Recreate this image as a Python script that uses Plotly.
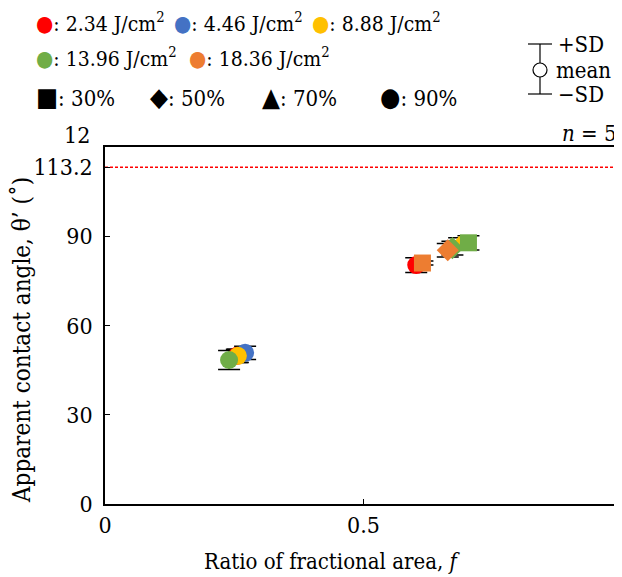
import plotly.graph_objects as go

# ---- data ----
series_names = ["2.34 J/cm² 90%", "4.46 J/cm² 90%", "8.88 J/cm² 90%", "13.96 J/cm² 90%",
                "2.34 J/cm² 90% (b)", "18.36 J/cm² 30%",
                "8.88 J/cm² 70%", "13.96 J/cm² 50%", "18.36 J/cm² 50%", "13.96 J/cm² 30%"]
series_colors = ["#FF0000", "#4472C4", "#FFC000", "#70AD47",
                 "#FF0000", "#ED7D31",
                 "#FFC000", "#70AD47", "#ED7D31", "#70AD47"]
series_symbols = ["circle", "circle", "circle", "circle",
                  "circle", "square",
                  "triangle-up", "diamond", "diamond", "square"]
f_values = [0.255, 0.271, 0.257, 0.240,
            0.602, 0.614,
            0.685, 0.672, 0.663, 0.703]
mean_values = [49.8, 50.8, 49.8, 48.4,
               80.3, 81.0,
               87.5, 86.0, 85.3, 87.8]
sd_values = [2.2, 2.2, 2.2, 3.2,
             2.5, 0.7,
             2.0, 2.3, 2.3, 2.4]

young_angle = 113.2
y_ticks = [0, 30, 60, 90, 113.2]
y_tick_text = ["0", "30", "60", "90", "113.2"]
x_ticks = [0, 0.5]
x_tick_text = ["0", "0.5"]

FONT = "DejaVu Serif Condensed, DejaVu Serif"

fig = go.Figure()

for i in range(len(f_values)):
    fig.add_trace(go.Scatter(
        x=[f_values[i]], y=[mean_values[i]], mode="markers",
        marker=dict(size=0.1, color="rgba(0,0,0,0)"),
        error_y=dict(type="data", array=[sd_values[i]], color="black",
                     thickness=1.5, width=11),
        showlegend=False, hoverinfo="skip"))

msize = {"circle": 18, "square": 17, "diamond": 17, "triangle-up": 16}
for i in range(len(f_values)):
    fig.add_trace(go.Scatter(
        x=[f_values[i]], y=[mean_values[i]], mode="markers",
        name=series_names[i],
        marker=dict(symbol=series_symbols[i], size=msize[series_symbols[i]],
                    color=series_colors[i], line=dict(width=0)),
        showlegend=False))

fig.add_trace(go.Scatter(
    x=[0, 1], y=[young_angle, young_angle], mode="lines",
    line=dict(color="#FF0000", width=1.5, dash="3px,2px"),
    showlegend=False, hoverinfo="skip"))

# page body has an 8px margin: figure placed at (8, 8)
fig.update_layout(
    width=614, height=569,
    margin=dict(l=97, r=0, t=139, b=73),
    paper_bgcolor="white", plot_bgcolor="white",
    font=dict(family=FONT, size=21, color="black"),
    showlegend=False,
)

fig.update_xaxes(
    range=[0, 1], tickvals=x_ticks, ticktext=x_tick_text,
    ticks="inside", ticklen=5, tickwidth=1, tickcolor="black",
    showline=True, linecolor="black", linewidth=1.5, mirror=True,
    showgrid=False, zeroline=False,
    tickfont=dict(family=FONT, size=23),
)
fig.update_yaxes(
    range=[0, 120], tickvals=y_ticks, ticktext=y_tick_text,
    ticks="inside", ticklen=5, tickwidth=1, tickcolor="black",
    showline=True, linecolor="black", linewidth=1.5,
    showgrid=False, zeroline=False, ticklabelstandoff=6,
    tickfont=dict(family=FONT, size=23),
)

ann = []
def add_text(x, y, text, size=21, xanchor="left", color="black", angle=0):
    ann.append(dict(x=x, y=y, xref="paper", yref="paper", text=text, showarrow=False,
                    xanchor=xanchor, yanchor="middle", textangle=angle,
                    font=dict(family=FONT, size=size, color=color)))

PW, PH = 517, 357
def px(xp):
    return (xp - 105) / PW
def py(yp):
    return (504 - yp) / PH

# axis titles
add_text(px(332), py(561), "Ratio of fractional area, <i>f</i>", size=22, xanchor="center")
add_text(px(22), py(340), "Apparent contact angle, θ’ (˚)", size=24, xanchor="center", angle=-90)

# clipped tick labels ("12" at the top of the y axis, "1" at the right end of x)
add_text(px(92), py(135), "12", size=23, xanchor="right")
add_text(px(614), py(522), "1", size=23, xanchor="left")
add_text(px(619), py(134), "<i>n</i> = 5", size=22, xanchor="right")

leg_colors = ["#FF0000", "#4472C4", "#FFC000", "#70AD47", "#ED7D31"]
leg_labels = ["2.34", "4.46", "8.88", "13.96", "18.36"]
leg_pos = [(34, 22), (172, 22), (310, 22), (34, 57), (187, 57)]
for c, lab, (xx, yy) in zip(leg_colors, leg_labels, leg_pos):
    add_text(px(xx), py(yy),
             f"<span style='color:{c};font-size:22px'>●</span>: {lab} J/cm<sup>2</sup>")

shape_syms = ["■", "◆", "▲", "●"]
shape_labels = ["30%", "50%", "70%", "90%"]
shape_x = [34, 148, 260, 378]
for s, lab, xx in zip(shape_syms, shape_labels, shape_x):
    add_text(px(xx), py(97), f"<span style='font-size:26px'>{s}</span>: {lab}", size=22)

add_text(px(556), py(45), "+SD", size=22)
add_text(px(554), py(70), "mean", size=22)
add_text(px(556), py(94), "−SD", size=22)
fig.update_layout(annotations=ann)

shapes = []
kx = 540
def pl(x0, y0, x1, y1):
    shapes.append(dict(type="line", xref="paper", yref="paper",
                       x0=px(x0), y0=py(y0), x1=px(x1), y1=py(y1),
                       line=dict(color="black", width=1.2)))
pl(kx - 12, 44, kx + 12, 44)
pl(kx - 12, 94, kx + 12, 94)
pl(kx, 44, kx, 63)
pl(kx, 77, kx, 94)
shapes.append(dict(type="circle", xref="paper", yref="paper",
                   x0=px(kx - 7), x1=px(kx + 7), y0=py(77), y1=py(63),
                   line=dict(color="black", width=1.2), fillcolor="white"))
fig.update_layout(shapes=shapes)

fig.write_html("out.html")
